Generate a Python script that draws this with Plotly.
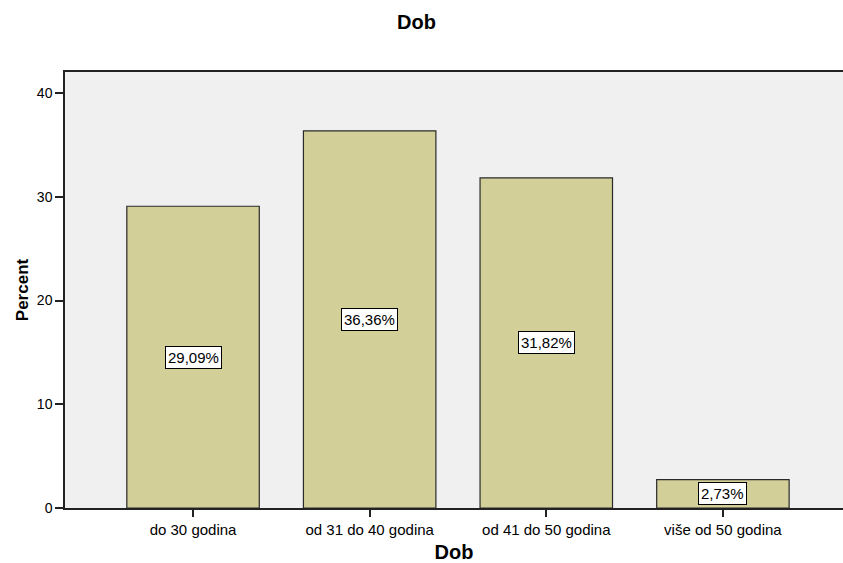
import plotly.graph_objects as go

categories = ["do 30 godina", "od 31 do 40 godina", "od 41 do 50 godina", "više od 50 godina"]
percents = [29.09, 36.36, 31.82, 2.73]
labels = ["29,09%", "36,36%", "31,82%", "2,73%"]

FONT = "Liberation Sans, Arial, sans-serif"

fig = go.Figure()
fig.add_trace(go.Bar(
    x=categories, y=percents, width=0.75,
    marker=dict(color="#d3cf98", line=dict(color="#2a2a2a", width=1.2)),
    hoverinfo="skip",
))

for c, v, t in zip(categories, percents, labels):
    fig.add_annotation(
        x=c, y=v / 2, text=t, showarrow=False,
        font=dict(family=FONT, size=15, color="black"),
        bgcolor="white", bordercolor="black", borderwidth=1, borderpad=2,
    )

fig.update_layout(
    width=843, height=563,
    margin=dict(l=65, r=0, t=72, b=55),
    paper_bgcolor="white", plot_bgcolor="#f0f0f0",
    showlegend=False,
    title=dict(text="<b>Dob</b>", x=0.494, xanchor="center", y=0.961, yanchor="middle",
               xref="container",
               font=dict(family=FONT, size=20, color="black")),
    font=dict(family=FONT, color="black"),
)
fig.update_xaxes(
    type="category", range=[-0.725, 3.68],
    showline=True, linecolor="#222222", linewidth=1.5, mirror=True,
    ticks="outside", ticklen=7, tickcolor="#222222", tickwidth=1.5,
    tickfont=dict(family=FONT, size=15, color="black"),
    showgrid=False,
    title=dict(text="<b>Dob</b>", font=dict(family=FONT, size=20, color="black"), standoff=8),
)
fig.update_yaxes(
    range=[0, 42.03], tickvals=[0, 10, 20, 30, 40],
    showline=True, linecolor="#222222", linewidth=1.5, mirror=False,
    ticks="outside", ticklen=8, tickcolor="#222222", tickwidth=1.5,
    tickfont=dict(family=FONT, size=14, color="black"),
    showgrid=False, zeroline=False,
    title=dict(text="<b>Percent</b>", font=dict(family=FONT, size=17, color="black"), standoff=4),
)

fig.write_html("out.html", config={"displayModeBar": False},
               post_script="document.body.style.margin='0px';")
